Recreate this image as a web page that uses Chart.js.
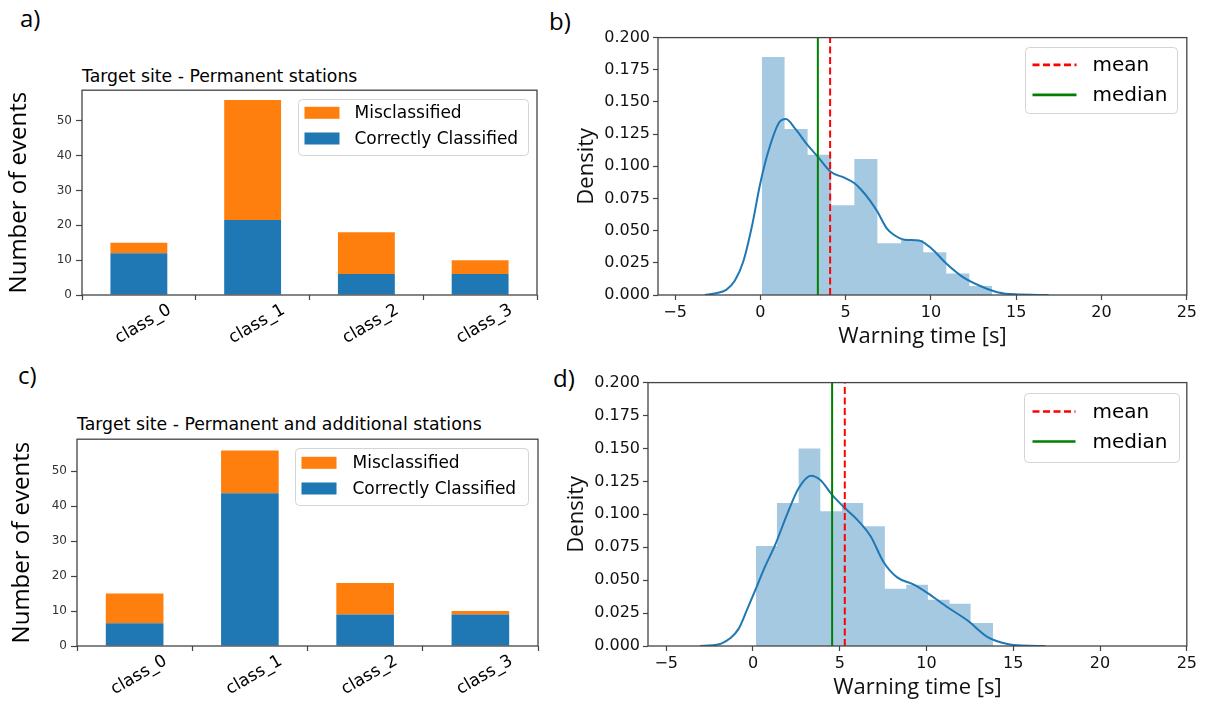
<!DOCTYPE html>
<html><head><meta charset="utf-8">
<script src="https://cdn.jsdelivr.net/npm/chart.js@4.4.1/dist/chart.umd.min.js"></script>
<style>
html,body{margin:0;padding:0;background:#fff;}
body{width:1210px;height:703px;position:relative;overflow:hidden;}
canvas{position:absolute;}
.lbl{position:absolute;font-family:"Open Sans";font-size:24px;color:#000;line-height:1;white-space:nowrap;transform:translateY(-50%);}
.ttl{position:absolute;font-family:"DejaVu Sans";font-size:17.3px;color:#000;line-height:1;white-space:nowrap;transform:translateY(-50%);}
</style></head><body>
<div class="lbl" style="left:20px;top:18px">a)</div>
<div class="lbl" style="left:549px;top:21px">b)</div>
<div class="lbl" style="left:18px;top:375px">c)</div>
<div class="lbl" style="left:553px;top:378px">d)</div>
<div class="ttl" style="left:82px;top:77px">Target site - Permanent stations</div>
<div class="ttl" style="left:77px;top:425px">Target site - Permanent and additional stations</div>
<script>
// ---------- data ----------
const classes = ['class_0', 'class_1', 'class_2', 'class_3'];
const correctA = [12, 21.5, 6, 6];
const misclassA = [3, 34.5, 12, 4];
const correctC = [6.5, 43.7, 9, 9];
const misclassC = [8.5, 12.3, 9, 1];

const histEdgesB = [0.08, 1.42, 2.77, 4.15, 5.51, 6.86, 8.25, 9.55, 10.9, 12.25, 13.59];
const histDensB = [0.185, 0.129, 0.109, 0.0697, 0.1056, 0.0403, 0.0428, 0.0333, 0.0167, 0.0069];
const kdeXB = [-3.25, -2.6, -2.0, -1.5, -1.0, -0.5, 0.0, 0.5, 1.1, 1.5, 2.05, 2.8, 3.4, 4.1, 4.95, 5.5, 5.9, 6.45, 6.85, 7.4, 7.8, 8.45, 9.3, 10.0, 10.9, 11.85, 13.0, 13.95, 14.9, 16.9];
const kdeYB = [0, 0.0013, 0.004, 0.011, 0.026, 0.053, 0.087, 0.113, 0.134, 0.1367, 0.129, 0.116, 0.107, 0.096, 0.091, 0.087, 0.082, 0.073, 0.065, 0.052, 0.047, 0.043, 0.0423, 0.0365, 0.0244, 0.0141, 0.0064, 0.002, 0.0005, 0];
const meanB = 4.09;
const medianB = 3.37;

const histEdgesD = [0.17, 1.38, 2.63, 3.88, 5.13, 6.35, 7.6, 8.83, 10.08, 11.33, 12.54, 13.83];
const histDensD = [0.0759, 0.1085, 0.1499, 0.1023, 0.1085, 0.091, 0.0434, 0.0466, 0.0351, 0.0321, 0.0175];
const kdeXD = [-3.05, -2.3, -1.8, -1.3, -0.83, -0.36, 0.12, 0.65, 1.29, 1.96, 2.63, 3.35, 3.88, 4.56, 5.29, 6.0, 6.77, 7.54, 8.31, 9.27, 10.13, 11.19, 12.35, 13.5, 14.66, 15.5, 16.85];
const kdeYD = [0, 0.0005, 0.002, 0.006, 0.013, 0.027, 0.042, 0.059, 0.0772, 0.0998, 0.1198, 0.1293, 0.126, 0.1148, 0.1048, 0.096, 0.0835, 0.0634, 0.0521, 0.0466, 0.0396, 0.0296, 0.0195, 0.007, 0.0015, 0.0003, 0];
const meanD = 5.29;
const medianD = 4.56;

const densityTicks = { min: 0, max: 0.2, step: 0.025 };
const xTicksWarn = { step: 5, max: 25 };

// ---------- plugins ----------
const frame = {
  id: 'frame',
  afterDatasetsDraw(chart) {
    const { ctx, chartArea: ca } = chart;
    ctx.save();
    ctx.strokeStyle = '#444';
    ctx.lineWidth = 1.3;
    ctx.strokeRect(ca.left, ca.top, ca.right - ca.left, ca.bottom - ca.top);
    ctx.restore();
  }
};

function rr(ctx, x, y, w, h, r) {
  ctx.beginPath();
  ctx.moveTo(x + r, y);
  ctx.lineTo(x + w - r, y); ctx.quadraticCurveTo(x + w, y, x + w, y + r);
  ctx.lineTo(x + w, y + h - r); ctx.quadraticCurveTo(x + w, y + h, x + w - r, y + h);
  ctx.lineTo(x + r, y + h); ctx.quadraticCurveTo(x, y + h, x, y + h - r);
  ctx.lineTo(x, y + r); ctx.quadraticCurveTo(x, y, x + r, y);
  ctx.closePath();
}

const boxLegend = {
  id: 'boxLegend',
  afterDraw(chart, args, o) {
    if (!o || !o.items) return;
    const ctx = chart.ctx, ca = chart.chartArea;
    const x = Math.round(ca.right - o.right - o.w) + 0.5, y = Math.round(ca.top + o.top) + 0.5;
    ctx.save();
    rr(ctx, x, y, o.w, o.h, 4);
    ctx.fillStyle = 'rgba(255,255,255,0.85)';
    ctx.fill();
    ctx.strokeStyle = '#d4d4d4';
    ctx.lineWidth = 1;
    ctx.stroke();
    ctx.font = o.font;
    ctx.textBaseline = 'middle';
    o.items.forEach((it, i) => {
      const ds = chart.data.datasets[it.ds];
      const cy = y + o.row0 + i * o.rowGap;
      if (it.kind === 'rect') {
        ctx.fillStyle = ds.backgroundColor;
        ctx.fillRect(x + o.hx, cy - o.hh / 2, o.hw, o.hh);
      } else {
        ctx.strokeStyle = ds.borderColor;
        ctx.lineWidth = 2.6;
        ctx.setLineDash(ds.borderDash || []);
        ctx.beginPath();
        ctx.moveTo(x + o.hx, cy);
        ctx.lineTo(x + o.hx + o.hw, cy);
        ctx.stroke();
        ctx.setLineDash([]);
      }
      ctx.fillStyle = '#000';
      ctx.fillText(ds.label, x + o.tx, cy + 1);
    });
    ctx.restore();
  }
};

function makeCanvas(g) {
  const c = document.createElement('canvas');
  const w = g.R + g.padRight - g.cl;
  const h = g.B - g.ct + g.xH;
  c.width = w; c.height = h;
  c.style.left = g.cl + 'px'; c.style.top = g.ct + 'px';
  c.style.width = w + 'px'; c.style.height = h + 'px';
  document.body.appendChild(c);
  return c;
}

const tickGrid = { display: true, drawOnChartArea: false, drawTicks: true, tickLength: 5, tickColor: '#444', tickWidth: 1.2 };

function barPanel(g, correct, mis, ymax, legendOpts) {
  const c = makeCanvas(g);
  new Chart(c, {
    type: 'bar',
    data: {
      labels: classes,
      datasets: [
        { label: 'Correctly Classified', data: correct, backgroundColor: '#1f77b4' },
        { label: 'Misclassified', data: mis, backgroundColor: '#ff7f0e' }
      ]
    },
    options: {
      responsive: false, animation: false, devicePixelRatio: 1,
      layout: { padding: { top: g.T - g.ct, right: g.padRight, left: 0, bottom: 0 } },
      datasets: { bar: { categoryPercentage: 1, barPercentage: 0.5 } },
      scales: {
        x: {
          stacked: true,
          grid: tickGrid, border: { display: false },
          ticks: { autoSkip: false, minRotation: 30, maxRotation: 30, labelOffset: 31, padding: 0, color: '#000', font: { family: 'DejaVu Sans', size: 17 } },
          afterFit(s) { s.height = g.xH; }
        },
        y: {
          stacked: true, min: 0, max: ymax,
          grid: Object.assign({}, tickGrid, { tickLength: 6 }), border: { display: false },
          ticks: { stepSize: 10, includeBounds: false, padding: 4, color: '#333', font: { family: 'DejaVu Sans', size: 12 } },
          title: { display: true, text: 'Number of events', color: '#000', font: { family: 'Open Sans', size: 24 }, padding: { top: g.ytPad, bottom: 0 } },
          afterFit(s) { s.width = g.L - g.cl; }
        }
      },
      plugins: { legend: { display: false }, tooltip: { enabled: false }, boxLegend: legendOpts }
    },
    plugins: [frame, boxLegend]
  });
}

function histPanel(g, edges, dens, kx, ky, mean, median, xmin, legendOpts) {
  const c = makeCanvas(g);
  const histPts = [{ x: edges[0], y: 0 }].concat(dens.map((d, i) => ({ x: edges[i], y: d }))).concat([{ x: edges[edges.length - 1], y: 0 }]);
  new Chart(c, {
    type: 'line',
    data: {
      datasets: [
        { label: 'mean', data: [{ x: mean, y: densityTicks.min }, { x: mean, y: densityTicks.max }], borderColor: '#ff0000', borderDash: [7, 3.5], borderWidth: 2, pointRadius: 0, order: 0 },
        { label: 'median', data: [{ x: median, y: densityTicks.min }, { x: median, y: densityTicks.max }], borderColor: '#008000', borderWidth: 2, pointRadius: 0, order: 1 },
        { label: 'kde', data: kx.map((x, i) => ({ x: x, y: ky[i] })), borderColor: '#1f77b4', borderWidth: 2, pointRadius: 0, cubicInterpolationMode: 'monotone', order: 2 },
        { label: 'hist', data: histPts, stepped: 'before', fill: 'origin', backgroundColor: 'rgba(31,119,180,0.4)', borderColor: 'rgba(0,0,0,0)', borderWidth: 1, pointRadius: 0, order: 3 }
      ]
    },
    options: {
      responsive: false, animation: false, devicePixelRatio: 1,
      layout: { padding: { top: g.T - g.ct, right: g.padRight, left: 0, bottom: 0 } },
      scales: {
        x: {
          type: 'linear', min: xmin, max: xTicksWarn.max,
          grid: tickGrid, border: { display: false },
          ticks: { stepSize: xTicksWarn.step, includeBounds: false, padding: 3, color: '#111', font: { family: 'DejaVu Sans', size: 16 },
            callback: v => (v < 0 ? '\u2212' + Math.abs(v) : String(v)) },
          title: { display: true, text: 'Warning time [s]', color: '#111', font: { family: 'Open Sans', size: 22 }, padding: { top: 0, bottom: 0 } },
          afterFit(s) { s.height = g.xH; }
        },
        y: {
          min: densityTicks.min, max: densityTicks.max,
          grid: tickGrid, border: { display: false },
          ticks: { stepSize: densityTicks.step, includeBounds: false, padding: 3, color: '#111', font: { family: 'DejaVu Sans', size: 16 },
            callback: v => Number(v).toFixed(3) },
          title: { display: true, text: 'Density', color: '#111', font: { family: 'Open Sans', size: 22 }, padding: { top: g.ytPad, bottom: 0 } },
          afterFit(s) { s.width = g.L - g.cl; }
        }
      },
      plugins: { legend: { display: false }, tooltip: { enabled: false }, boxLegend: legendOpts }
    },
    plugins: [frame, boxLegend]
  });
}

barPanel({ cl: 0, ct: 79, L: 82, T: 89, R: 537, B: 295, padRight: 10, xH: 50, ytPad: 4.6 }, correctA, misclassA, 58.8,
  { items: [{ ds: 1, kind: 'rect' }, { ds: 0, kind: 'rect' }], right: 9, top: 8.7, w: 230, h: 56, row0: 13.3, rowGap: 25.7, hx: 6, hw: 35, hh: 12, tx: 56, font: '17px "DejaVu Sans"' });
barPanel({ cl: 0, ct: 428, L: 77, T: 438, R: 538, B: 646, padRight: 10, xH: 50, ytPad: 7.6 }, correctC, misclassC, 59.2,
  { items: [{ ds: 1, kind: 'rect' }, { ds: 0, kind: 'rect' }], right: 10, top: 8.7, w: 233, h: 57, row0: 14.3, rowGap: 25.7, hx: 6, hw: 35, hh: 12, tx: 57, font: '17px "DejaVu Sans"' });
histPanel({ cl: 570, ct: 25, L: 658, T: 35, R: 1188, B: 295, padRight: 12, xH: 55, ytPad: 3.8 }, histEdgesB, histDensB, kdeXB, kdeYB, meanB, medianB, -6.0,
  { items: [{ ds: 0, kind: 'line' }, { ds: 1, kind: 'line' }], right: 10.3, top: 9.3, w: 152, h: 66, row0: 17.4, rowGap: 30, hx: 7, hw: 44, tx: 67, font: '20px "DejaVu Sans"' });
histPanel({ cl: 560, ct: 370, L: 648, T: 380, R: 1188, B: 646, padRight: 12, xH: 55, ytPad: 3.8 }, histEdgesD, histDensD, kdeXD, kdeYD, meanD, medianD, -6.05,
  { items: [{ ds: 0, kind: 'line' }, { ds: 1, kind: 'line' }], right: 7.7, top: 10, w: 155, h: 69, row0: 18, rowGap: 30, hx: 8, hw: 43, tx: 68, font: '20px "DejaVu Sans"' });
</script>
</body></html>
